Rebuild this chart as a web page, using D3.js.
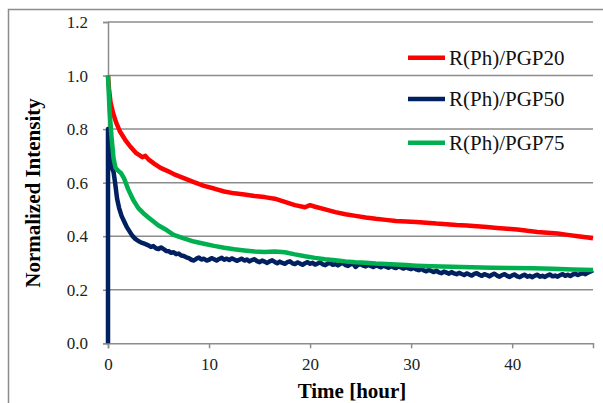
<!DOCTYPE html>
<html><head><meta charset="utf-8">
<script src="https://cdn.jsdelivr.net/npm/d3@7"></script>
</head><body style="margin:0;background:#fff"><svg id="c" width="603" height="403" style="display:block"></svg>
<script>
const seriesNames = ["R(Ph)/PGP20", "R(Ph)/PGP50", "R(Ph)/PGP75"];
const seriesColors = ["#ff0000", "#002060", "#00b050"];
const yTicks = [0.0, 0.2, 0.4, 0.6, 0.8, 1.0, 1.2];
const xTicks = [0, 10, 20, 30, 40];

const redT = [0,0.1,0.25,0.5,0.8,1.2,1.7,2.2,2.8,3.4,3.7,4.0,4.6,5.2,5.8,6.5,7.5,8.5,9.5,10.5,11.5,12.5,13.5,14.5,15.5,16.5,17.5,18.5,19.5,20.0,20.5,21.5,22.5,23.5,24.5,25.5,26.5,27.5,28.5,29.5,30.5,31.5,32.5,33.5,34.5,35.5,36.5,37.5,38.5,39.5,40.5,41.5,42.5,43.5,44.5,45.5,46.5,47.5,48];
const redV = [1.0,0.95,0.9,0.86,0.825,0.79,0.76,0.735,0.71,0.695,0.70,0.687,0.67,0.655,0.645,0.632,0.617,0.602,0.588,0.578,0.567,0.56,0.556,0.55,0.546,0.54,0.528,0.516,0.508,0.516,0.51,0.5,0.49,0.482,0.476,0.47,0.465,0.461,0.457,0.455,0.453,0.45,0.447,0.445,0.442,0.44,0.437,0.434,0.431,0.428,0.425,0.42,0.416,0.413,0.41,0.405,0.4,0.395,0.392];

const blueT = [0,0,0.1,0.25,0.4,0.55,0.7,0.9,1.1,1.35,1.6,1.85,2.1,2.4,2.7,3.0,3.3,3.6,
  4,4.25,4.5,4.75,5,5.25,5.5,5.75,6,6.25,6.5,6.75,7,7.25,7.5,7.75,8,8.25,8.5,8.75,
  9,9.25,9.5,9.75,10,10.25,10.5,10.75,11,11.25,11.5,11.75,12,12.25,12.5,12.75,13,13.25,13.5,13.75,
  14,14.25,14.5,14.75,15,15.25,15.5,15.75,16,16.25,16.5,16.75,17,17.25,17.5,17.75,18,18.25,18.5,18.75,
  19,19.25,19.5,19.75,20,20.25,20.5,20.75,21,21.25,21.5,21.75,22,22.25,22.5,22.75,23,23.25,23.5,23.75,
  24,24.25,24.5,24.75,25,25.25,25.5,25.75,26,26.25,26.5,26.75,27,27.25,27.5,27.75,28,28.25,28.5,28.75,
  29,29.25,29.5,29.75,30,30.25,30.5,30.75,31,31.25,31.5,31.75,32,32.25,32.5,32.75,33,33.25,33.5,33.75,
  34,34.25,34.5,34.75,35,35.25,35.5,35.75,36,36.25,36.5,36.75,37,37.25,37.5,37.75,38,38.25,38.5,38.75,
  39,39.25,39.5,39.75,40,40.25,40.5,40.75,41,41.25,41.5,41.75,42,42.25,42.5,42.75,43,43.25,43.5,43.75,
  44,44.25,44.5,44.75,45,45.25,45.5,45.75,46,46.25,46.5,46.75,47,47.25,47.5,47.75,48];
const blueV = [0,0.8,0.74,0.68,0.655,0.64,0.6,0.54,0.505,0.475,0.455,0.435,0.42,0.402,0.39,0.382,0.376,0.372,
  .366,.360,.363,.355,.352,.358,.352,.345,.344,.338,.340,.333,.335,.328,.326,.321,.318,.312,.309,.316,
  .320,.313,.316,.309,.312,.318,.314,.309,.315,.319,.312,.316,.311,.317,.313,.308,.312,.316,.309,.313,
  .306,.311,.314,.307,.303,.309,.305,.300,.306,.310,.304,.299,.305,.300,.297,.303,.306,.299,.296,.302,
  .298,.293,.299,.303,.297,.301,.294,.298,.302,.295,.292,.298,.300,.293,.296,.291,.297,.300,.292,.289,
  .295,.298,.285,.293,.296,.290,.287,.293,.289,.285,.291,.288,.284,.290,.286,.282,.288,.284,.281,.287,
  .283,.279,.284,.280,.277,.282,.276,.273,.278,.272,.269,.274,.270,.266,.271,.265,.262,.268,.264,.260,
  .266,.261,.258,.263,.259,.255,.261,.257,.253,.259,.262,.256,.252,.258,.255,.250,.256,.260,.253,.249,
  .255,.258,.252,.248,.254,.257,.250,.247,.253,.256,.249,.252,.247,.253,.256,.249,.252,.248,.254,.257,
  .250,.253,.249,.255,.258,.252,.256,.251,.257,.260,.255,.259,.262,.258,.264,.268,.273];

const greenT = [0,0.15,0.35,0.55,0.75,1.0,1.3,1.6,2.0,2.5,3.0,3.5,4.0,4.5,5.0,5.8,6.5,7.5,8.5,9.5,10.5,11.5,12.5,13.5,14.5,15.5,16.5,17.5,18.5,19.5,20.5,21.5,22.5,23.5,24.5,25.5,26.5,27.5,28.5,29.5,30.5,32,34,36,38,40,42,44,46,48];
const greenV = [1.0,0.87,0.77,0.69,0.655,0.645,0.635,0.615,0.575,0.535,0.505,0.486,0.47,0.455,0.44,0.423,0.405,0.392,0.38,0.372,0.364,0.357,0.351,0.347,0.343,0.341,0.343,0.34,0.332,0.325,0.319,0.314,0.31,0.306,0.303,0.301,0.298,0.296,0.294,0.292,0.29,0.288,0.286,0.284,0.282,0.281,0.28,0.278,0.276,0.274];

const FONT = "'Liberation Serif', 'Times New Roman', Tinos, serif";
const svg = d3.select("#c");
const x0 = 108, x1 = 593, yTop = 22, yBot = 343.3;
const x = d3.scaleLinear().domain([0, 48]).range([x0, x1]);
const y = d3.scaleLinear().domain([0, 1.2]).range([yBot, yTop]);
const grid = "#8c8c8c";

svg.append("rect").attr("x", 8.5).attr("y", 9.5).attr("width", 700).attr("height", 500)
  .attr("fill", "none").attr("stroke", grid).attr("stroke-width", 1.5);

// gridlines
svg.append("g").selectAll("line").data(yTicks.filter(d => d > 0)).join("line")
  .attr("x1", x0).attr("x2", x1).attr("y1", d => y(d)).attr("y2", d => y(d))
  .attr("stroke", grid).attr("stroke-width", 1.5);

// y axis
const ya = svg.append("g").attr("transform", `translate(${x0},0)`)
  .call(d3.axisLeft(y).tickValues(yTicks).tickFormat(d3.format(".1f")).tickSize(5).tickPadding(15));
ya.select(".domain").attr("stroke", grid).attr("stroke-width", 1.5);
ya.selectAll(".tick line").attr("stroke", grid).attr("stroke-width", 1.5);
ya.selectAll("text").style("font-family", FONT).style("font-size", "17px").attr("fill", "#222");

// x axis
const xa = svg.append("g").attr("transform", `translate(0,${yBot})`)
  .call(d3.axisBottom(x).tickValues(xTicks).tickSize(5).tickPadding(10));
xa.select(".domain").attr("stroke", grid).attr("stroke-width", 1.5);
xa.selectAll(".tick line").attr("stroke", grid).attr("stroke-width", 1.5);
xa.selectAll("text").style("font-family", FONT).style("font-size", "17px").attr("fill", "#222");

// series
const line = d3.line().x(d => x(d[0])).y(d => y(d[1]));
const data = [d3.zip(redT, redV), d3.zip(blueT, blueV), d3.zip(greenT, greenV)];
const widths = [4.5, 4.5, 4.5];
svg.append("g").selectAll("path").data(data).join("path")
  .attr("d", line).attr("fill", "none")
  .attr("stroke", (d, i) => seriesColors[i]).attr("stroke-width", (d, i) => widths[i])
  .attr("stroke-linejoin", "round");

// titles
svg.append("text").attr("x", 352).attr("y", 398).attr("text-anchor", "middle")
  .style("font-family", FONT).style("font-weight", "bold").style("font-size", "21px").text("Time [hour]");
svg.append("text").attr("transform", "translate(40,193) rotate(-90)").attr("text-anchor", "middle")
  .style("font-family", FONT).style("font-weight", "bold").style("font-size", "21px").text("Normalized Intensity");

// legend
const legY = [57.7, 99, 142.7];
const lg = svg.append("g").selectAll("g").data(seriesNames).join("g")
  .attr("transform", (d, i) => `translate(408,${legY[i]})`);
lg.append("line").attr("x1", 0).attr("x2", 37).attr("stroke", (d, i) => seriesColors[i]).attr("stroke-width", 4.5);
lg.append("text").attr("x", 41).attr("y", 7).style("font-family", FONT).style("font-size", "21px")
  .attr("fill", "#111").text(d => d);
</script></body></html>
